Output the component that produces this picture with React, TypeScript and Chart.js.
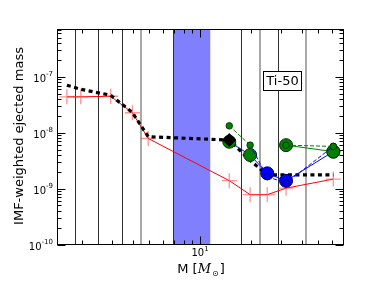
import React, { useEffect, useRef } from "react";
import { Chart, registerables } from "chart.js";
Chart.register(...registerables);

// ---- data ----
const redMass = [1.63, 1.97, 2.96, 3.98, 4.94, 14.9, 19.8, 25.0, 32.3, 61.5];
const redValue = [4.4e-8, 4.4e-8, 4.5e-8, 2.28e-8, 7.9e-9, 1.39e-9, 7.8e-10, 7.8e-10, 1.02e-9, 1.48e-9];
const blackMass = [1.63, 1.97, 2.96, 3.98, 4.94, 14.9, 19.8, 25.0, 32.3, 61.5];
const blackValue = [7.1e-8, 6.0e-8, 4.7e-8, 2.3e-8, 8.5e-9, 7.4e-9, 3.2e-9, 1.76e-9, 1.76e-9, 1.76e-9];
const modelMass = [14.9, 19.8, 25.0, 32.3, 61.5];
const modelBig = [6.9e-9, 4.0e-9, 1.88e-9, 1.38e-9, 4.6e-9];
const modelSmall = [1.33e-8, 6.0e-9, 1.64e-9, 1.26e-9, 5.7e-9];
const modelKind = ["g", "g", "b", "b", "g"];
const altMass = [32.3, 61.5];
const altBig = [6.0e-9, 4.6e-9];
const altSmall = [6.0e-9, 5.7e-9];
const diamondMass = [14.9];
const diamondValue = [7.4e-9];
const bandRange = [6.95, 11.5];
const darkLines = [1.82, 2.48, 3.47, 6.95, 17.5, 28.8];
const grayLines = [4.46, 22.6, 42.4];
const yMajor = [1e-10, 1e-9, 1e-8, 1e-7];
const yMajorExp = ["-10", "-9", "-8", "-7"];
const xMajor = [10];
const xMajorExp = ["1"];
const xDecades = [1, 10];
const yDecades = [1e-10, 1e-9, 1e-8, 1e-7];
const boxText = "Ti-50";
const yTitle = "IMF-weighted ejected mass";

const X_MIN = 1.425, X_MAX = 70.65, Y_MIN = 1e-10, Y_MAX = 7.2e-7;
const GREEN = "#008000", BLUE = "#0000ff";
const FONT = "'DejaVu Sans', sans-serif";

const pts = (xs: number[], ys: number[]) => xs.map((x, i) => ({ x, y: ys[i] }));
const fillOf = (k: string) => (k === "g" ? GREEN : BLUE);
const edgeOf = (k: string) => (k === "g" ? "#003000" : "#000050");

const decor = {
  id: "decor",
  beforeDatasetsDraw(chart: any) {
    const { ctx, chartArea: a, scales } = chart;
    const x = scales.x;
    ctx.save();
    const b0 = x.getPixelForValue(bandRange[0]);
    const b1 = x.getPixelForValue(bandRange[1]);
    ctx.fillStyle = "#8080ff";
    ctx.fillRect(b0, a.top, b1 - b0, a.bottom - a.top);
    ctx.strokeStyle = "#a8a8a8";
    ctx.lineWidth = 2;
    grayLines.forEach((m) => {
      const p = Math.round(x.getPixelForValue(m));
      ctx.beginPath();
      ctx.moveTo(p, a.top);
      ctx.lineTo(p, a.bottom);
      ctx.stroke();
    });
    ctx.strokeStyle = "#303030";
    ctx.lineWidth = 1;
    darkLines.forEach((m) => {
      const p = Math.round(x.getPixelForValue(m)) + 0.5;
      ctx.beginPath();
      ctx.moveTo(p, a.top);
      ctx.lineTo(p, a.bottom);
      ctx.stroke();
    });
    ctx.restore();
  },
  afterDraw(chart: any) {
    const { ctx, chartArea: a, scales } = chart;
    const x = scales.x, y = scales.y;
    ctx.save();
    ctx.strokeStyle = "#000";
    ctx.lineWidth = 1;
    const L = Math.round(a.left) + 0.5, R = Math.round(a.right) - 0.5;
    const T = Math.round(a.top) + 0.5, B = Math.round(a.bottom) - 0.5;
    const tick = (x1: number, y1: number, x2: number, y2: number) => {
      ctx.beginPath();
      ctx.moveTo(x1, y1);
      ctx.lineTo(x2, y2);
      ctx.stroke();
    };
    // x ticks
    xDecades.forEach((d) => {
      for (let k = 2; k <= 9; k++) {
        const v = k * d;
        if (v <= X_MIN || v >= X_MAX) continue;
        const p = Math.round(x.getPixelForValue(v)) + 0.5;
        tick(p, B, p, B - 4);
        tick(p, T, p, T + 4);
      }
    });
    xMajor.forEach((v) => {
      const p = Math.round(x.getPixelForValue(v)) + 0.5;
      tick(p, B, p, B - 8);
      tick(p, T, p, T + 8);
    });
    yDecades.forEach((d) => {
      for (let k = 2; k <= 9; k++) {
        const v = k * d;
        if (v <= Y_MIN || v >= Y_MAX) continue;
        const p = Math.round(y.getPixelForValue(v)) + 0.5;
        tick(L, p, L + 4, p);
        tick(R, p, R - 4, p);
      }
    });
    yMajor.forEach((v) => {
      const p = Math.round(y.getPixelForValue(v)) + 0.5;
      tick(L, p, L + 8, p);
      tick(R, p, R - 8, p);
    });
    // spines
    ctx.strokeRect(L, T, R - L, B - T);

    // y tick labels
    ctx.fillStyle = "#000";
    yMajor.forEach((v, i) => {
      const p = y.getPixelForValue(v);
      ctx.font = `7px ${FONT}`;
      const ew = ctx.measureText(yMajorExp[i]).width;
      const right = a.left - 4;
      ctx.textAlign = "left";
      ctx.textBaseline = "alphabetic";
      ctx.fillText(yMajorExp[i], right - ew, p - 1);
      ctx.font = `10px ${FONT}`;
      ctx.textAlign = "right";
      ctx.fillText("10", right - ew, p + 5);
    });
    // x tick labels
    xMajor.forEach((v, i) => {
      const p = x.getPixelForValue(v);
      ctx.font = `10px ${FONT}`;
      const w1 = ctx.measureText("10").width;
      ctx.font = `7px ${FONT}`;
      const w2 = ctx.measureText(xMajorExp[i]).width;
      const start = p - (w1 + w2) / 2;
      ctx.textAlign = "left";
      ctx.textBaseline = "alphabetic";
      ctx.font = `10px ${FONT}`;
      ctx.fillText("10", start, 256);
      ctx.font = `7px ${FONT}`;
      ctx.fillText(xMajorExp[i], start + w1, 251);
    });
    // x title: M [M_sun]
    const parts = [
      { t: "M [", f: `13px ${FONT}`, dy: 0 },
      { t: "M", f: `italic 13px 'DejaVu Serif', serif`, dy: 0 },
      { t: "\u2299", f: `8px ${FONT}`, dy: 3 },
      { t: "]", f: `13px ${FONT}`, dy: 0 },
    ];
    let tw = 0;
    const ws = parts.map((pt) => {
      ctx.font = pt.f;
      const w = ctx.measureText(pt.t).width + (pt.t === "\u2299" ? 2 : 0);
      tw += w;
      return w;
    });
    let cx = 201 - tw / 2;
    ctx.textAlign = "left";
    parts.forEach((pt, i) => {
      ctx.font = pt.f;
      ctx.fillText(pt.t, cx + (pt.t === "\u2299" ? 1 : 0), 273 + pt.dy);
      cx += ws[i];
    });
    // y title
    ctx.save();
    ctx.translate(20, 136);
    ctx.rotate(-Math.PI / 2);
    ctx.font = `13px ${FONT}`;
    ctx.textAlign = "center";
    ctx.textBaseline = "middle";
    ctx.fillText(yTitle, 0, 0);
    ctx.restore();
    // text box
    ctx.fillStyle = "#fff";
    ctx.fillRect(263.5, 71.5, 38, 19);
    ctx.strokeStyle = "#000";
    ctx.strokeRect(263.5, 71.5, 38, 19);
    ctx.fillStyle = "#000";
    ctx.font = `13px ${FONT}`;
    ctx.textAlign = "center";
    ctx.textBaseline = "middle";
    ctx.fillText(boxText, 282.5, 81.5);
    ctx.restore();
  },
};

export default function App() {
  const ref = useRef<HTMLCanvasElement>(null);
  useEffect(() => {
    document.body.style.margin = "0";
    const canvas = ref.current;
    if (!canvas) return;
    const chart = new Chart(canvas, {
      type: "scatter",
      data: {
        datasets: [
          {
            data: pts(diamondMass, diamondValue),
            showLine: false,
            pointStyle: "rectRot",
            pointRadius: 6.5,
            pointBackgroundColor: "#000",
            pointBorderColor: "#000",
            order: 0,
          },
          {
            data: pts(altMass, altSmall),
            showLine: true,
            borderColor: GREEN,
            borderWidth: 1,
            borderDash: [4, 2],
            pointRadius: 3.3,
            pointBackgroundColor: GREEN,
            pointBorderColor: "#002000",
            pointBorderWidth: 0.8,
            order: 1,
          },
          {
            data: pts(modelMass, modelSmall),
            showLine: true,
            borderColor: BLUE,
            borderWidth: 1,
            borderDash: [4, 2],
            segment: {
              borderColor: (c: any) => (c.p0DataIndex === 0 ? GREEN : BLUE),
            },
            pointRadius: 3.3,
            pointBackgroundColor: modelKind.map(fillOf),
            pointBorderColor: modelKind.map(edgeOf),
            pointBorderWidth: 0.8,
            order: 2,
          },
          {
            data: pts(altMass, altBig),
            showLine: true,
            borderColor: GREEN,
            borderWidth: 1,
            pointRadius: 6.5,
            pointBackgroundColor: GREEN,
            pointBorderColor: "#003000",
            pointBorderWidth: 1,
            order: 3,
          },
          {
            data: pts(modelMass, modelBig),
            showLine: true,
            borderColor: BLUE,
            borderWidth: 1,
            pointRadius: 6.5,
            pointBackgroundColor: modelKind.map(fillOf),
            pointBorderColor: modelKind.map(edgeOf),
            pointBorderWidth: 1,
            order: 4,
          },
          {
            data: pts(blackMass, blackValue),
            showLine: true,
            borderColor: "#000",
            borderWidth: 3.2,
            borderDash: [4, 3.5],
            pointRadius: 0,
            order: 5,
          },
          {
            data: pts(redMass, redValue),
            showLine: true,
            borderColor: "#ff0000",
            borderWidth: 1,
            pointStyle: "cross",
            pointRadius: 7.5,
            pointBorderColor: "rgba(255,60,60,0.55)",
            pointBorderWidth: 1.3,
            order: 6,
          },
        ],
      },
      options: {
        responsive: false,
        animation: false,
        layout: { padding: { left: 57, right: 38.5, top: 29, bottom: 43.5 } },
        plugins: { legend: { display: false }, tooltip: { enabled: false } },
        elements: { line: { tension: 0 } },
        scales: {
          x: { type: "logarithmic", min: X_MIN, max: X_MAX, display: false },
          y: { type: "logarithmic", min: Y_MIN, max: Y_MAX, display: false },
        },
      },
      plugins: [decor],
    });
    return () => chart.destroy();
  }, []);
  return <canvas ref={ref} width={382} height={288} style={{ display: "block" }} />;
}
